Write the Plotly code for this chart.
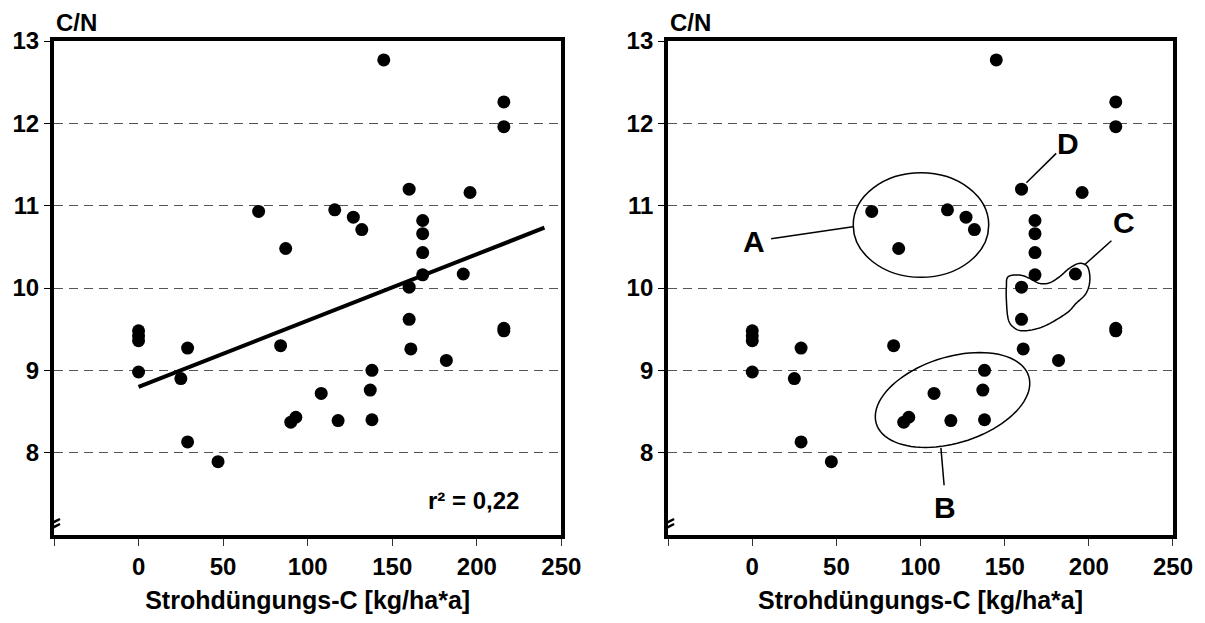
import numpy as np
import plotly.graph_objects as go

# Straw fertilisation carbon (kg/ha*a) and soil C/N ratio per plot
straw_c = [0, 0, 0, 0, 25, 29, 29, 47, 71, 84, 87, 90, 93, 108, 116, 118, 127, 132,
           138, 137, 138, 145, 160, 160, 160, 161, 168, 168, 168, 168, 182, 192, 196,
           216, 216, 216, 216]
cn_ratio = [9.48, 9.42, 9.36, 8.98, 8.90, 9.27, 8.13, 7.89, 10.93, 9.30, 10.48, 8.37,
            8.43, 8.72, 10.95, 8.39, 10.86, 10.71, 9.00, 8.76, 8.40, 12.77, 11.20,
            10.01, 9.62, 9.26, 10.82, 10.66, 10.43, 10.16, 9.12, 10.17, 11.16, 12.26,
            11.96, 9.51, 9.48]

# Linear regression line (intercept, slope) and its coefficient of determination
fit_intercept = 8.80
fit_slope = 0.00805
fit_x = [0, 240]
r2_text = "r² = 0,22"

x_tickvals = [-50, 0, 50, 100, 150, 200, 250]
x_ticktext = ["", "0", "50", "100", "150", "200", "250"]
y_tickvals = [8, 9, 10, 11, 12, 13]
y_ticktext = ["8", "9", "10", "11", "12", "13"]

x_title = "Strohdüngungs-C [kg/ha*a]"
y_title = "C/N"

# Group outlines for the right panel (data units)
group_a_box = dict(x0=60, x1=140.5, y0=10.13, y1=11.40)
group_b_center = (119.0, 8.64)
group_b_axes_px = (80, 43, 17.3)  # semi-axes in px and tilt in degrees
group_c_outline = [(152.0, 10.136), (158.9, 10.157), (164.8, 10.117), (170.7, 10.056),
                   (176.6, 10.063), (182.5, 10.136), (188.4, 10.238), (194.3, 10.299),
                   (199.2, 10.258), (200.6, 10.096), (198.3, 9.934), (192.4, 9.813),
                   (186.5, 9.691), (172.6, 9.529), (160.8, 9.480), (154.9, 9.529),
                   (152.0, 9.631), (151.0, 9.853), (151.0, 10.015)]
group_labels = ["A", "B", "C", "D"]
group_label_pos = [(0.9, 10.57), (114.6, 7.33), (220.9, 10.79), (187.5, 11.75)]
group_leaders = [((11.2, 10.598), (59.8, 10.744)),
                 ((112.1, 8.058), (114.0, 7.605)),
                 ((213.4, 10.574), (197.3, 10.279)),
                 ((180.6, 11.635), (162.9, 11.278))]

W, H = 1205, 623
MARGIN = dict(l=52, r=31, t=41, b=88)
X_RANGE = [-50, 250]
Y_RANGE = [7, 13]
DOM1 = [0, 0.4534]
DOM2 = [0.5488, 1]

FONT = "Liberation Sans, Arial, Helvetica, sans-serif"

plot_w = W - MARGIN["l"] - MARGIN["r"]
plot_h = H - MARGIN["t"] - MARGIN["b"]
px_per_x = plot_w * (DOM2[1] - DOM2[0]) / (X_RANGE[1] - X_RANGE[0])
px_per_y = plot_h / (Y_RANGE[1] - Y_RANGE[0])


def ellipse_path(cx, cy, a_px, b_px, ang_deg, n=90):
    t = np.linspace(0, 2 * np.pi, n, endpoint=False)
    th = np.radians(ang_deg)
    dx = a_px * np.cos(t) * np.cos(th) - b_px * np.sin(t) * np.sin(th)
    dy = a_px * np.cos(t) * np.sin(th) + b_px * np.sin(t) * np.cos(th)
    xs = cx + dx / px_per_x
    ys = cy + dy / px_per_y
    return "M " + " L ".join(f"{x:.3f},{y:.4f}" for x, y in zip(xs, ys)) + " Z"


def smooth_closed_path(pts, k=14):
    P = np.array(pts, dtype=float)
    n = len(P)
    out = []
    for i in range(n):
        p0, p1, p2, p3 = P[i - 1], P[i], P[(i + 1) % n], P[(i + 2) % n]
        for s in np.linspace(0, 1, k, endpoint=False):
            out.append(0.5 * ((2 * p1) + (-p0 + p2) * s
                              + (2 * p0 - 5 * p1 + 4 * p2 - p3) * s ** 2
                              + (-p0 + 3 * p1 - 3 * p2 + p3) * s ** 3))
    return "M " + " L ".join(f"{x:.3f},{y:.4f}" for x, y in out) + " Z"


fig = go.Figure()

marker = dict(color="black", size=13, line=dict(width=0))
fig.add_trace(go.Scatter(x=straw_c, y=cn_ratio, mode="markers", marker=marker,
                         xaxis="x", yaxis="y", showlegend=False))
fit_y = [fit_intercept + fit_slope * v for v in fit_x]
fig.add_trace(go.Scatter(x=fit_x, y=fit_y, mode="lines",
                         line=dict(color="black", width=4),
                         xaxis="x", yaxis="y", showlegend=False))
fig.add_trace(go.Scatter(x=straw_c, y=cn_ratio, mode="markers", marker=marker,
                         xaxis="x2", yaxis="y2", showlegend=False))

tick_font = dict(family=FONT, size=24, color="black", weight="bold")
title_font = dict(family=FONT, size=25, color="black", weight="bold")

xaxis_common = dict(range=X_RANGE, tickvals=x_tickvals, ticktext=x_ticktext,
                    showline=True, linewidth=4, linecolor="black", mirror=True,
                    ticks="outside", ticklen=7, tickwidth=1, tickcolor="#333",
                    showgrid=False, zeroline=False, tickfont=tick_font,
                    title=dict(text=x_title, font=title_font, standoff=14))
yaxis_common = dict(range=Y_RANGE, tickvals=y_tickvals, ticktext=y_ticktext,
                    showline=True, linewidth=4, linecolor="black", mirror=True,
                    ticks="outside", ticklen=6, tickwidth=1, tickcolor="black",
                    showgrid=True, gridcolor="#555", gridwidth=1, griddash="9px,6px",
                    zeroline=False, tickfont=tick_font)

fig.update_layout(
    width=W, height=H, margin=MARGIN,
    paper_bgcolor="white", plot_bgcolor="white",
    font=dict(family=FONT, color="black"),
    xaxis=dict(domain=DOM1, anchor="y", **xaxis_common),
    yaxis=dict(domain=[0, 1], anchor="x", **yaxis_common),
    xaxis2=dict(domain=DOM2, anchor="y2", **xaxis_common),
    yaxis2=dict(domain=[0, 1], anchor="x2", **yaxis_common),
)

shapes = []
annotations = []

for xr, yr in (("x", "y"), ("x2", "y2")):
    # axis break mark near the foot of the y axis
    brk = dict(xref=xr, yref=yr, xsizemode="pixel", ysizemode="pixel",
               xanchor=X_RANGE[0], yanchor=Y_RANGE[0], layer="above")
    shapes.append(dict(type="rect", x0=-6, x1=2, y0=1, y1=16,
                       fillcolor="white", line=dict(width=0), **brk))
    shapes.append(dict(type="line", x0=-2, x1=-2, y0=-8, y1=8,
                       line=dict(color="black", width=1), **brk))
    shapes.append(dict(type="line", x0=-10, x1=6, y0=3, y1=11,
                       line=dict(color="black", width=2.5), **brk))
    shapes.append(dict(type="line", x0=-10, x1=6, y0=8, y1=16,
                       line=dict(color="black", width=2.5), **brk))
    annotations.append(dict(text=y_title, xref=xr + " domain", yref=yr + " domain",
                            x=0, y=1, xanchor="left", yanchor="bottom", yshift=3,
                            showarrow=False, font=tick_font))

annotations.append(dict(text=r2_text, xref="x", yref="y", x=226, y=7.42,
                        xanchor="right", yanchor="middle", showarrow=False,
                        font=tick_font))

# Right panel: group outlines, leader lines and letters
shapes.append(dict(type="circle", xref="x2", yref="y2", line=dict(color="black", width=1.5),
                   **group_a_box))
shapes.append(dict(type="path", xref="x2", yref="y2", line=dict(color="black", width=1.5),
                   path=ellipse_path(group_b_center[0], group_b_center[1], *group_b_axes_px)))
shapes.append(dict(type="path", xref="x2", yref="y2", line=dict(color="black", width=1.5),
                   path=smooth_closed_path(group_c_outline)))
for (p, q) in group_leaders:
    shapes.append(dict(type="line", xref="x2", yref="y2", x0=p[0], y0=p[1], x1=q[0], y1=q[1],
                       line=dict(color="black", width=1.5)))
for lab, (lx, ly) in zip(group_labels, group_label_pos):
    annotations.append(dict(text=lab, xref="x2", yref="y2", x=lx, y=ly, showarrow=False,
                            xanchor="center", yanchor="middle",
                            font=dict(family=FONT, size=30, color="black", weight="bold")))

fig.update_layout(shapes=shapes, annotations=annotations)

fig.write_html("out.html")
